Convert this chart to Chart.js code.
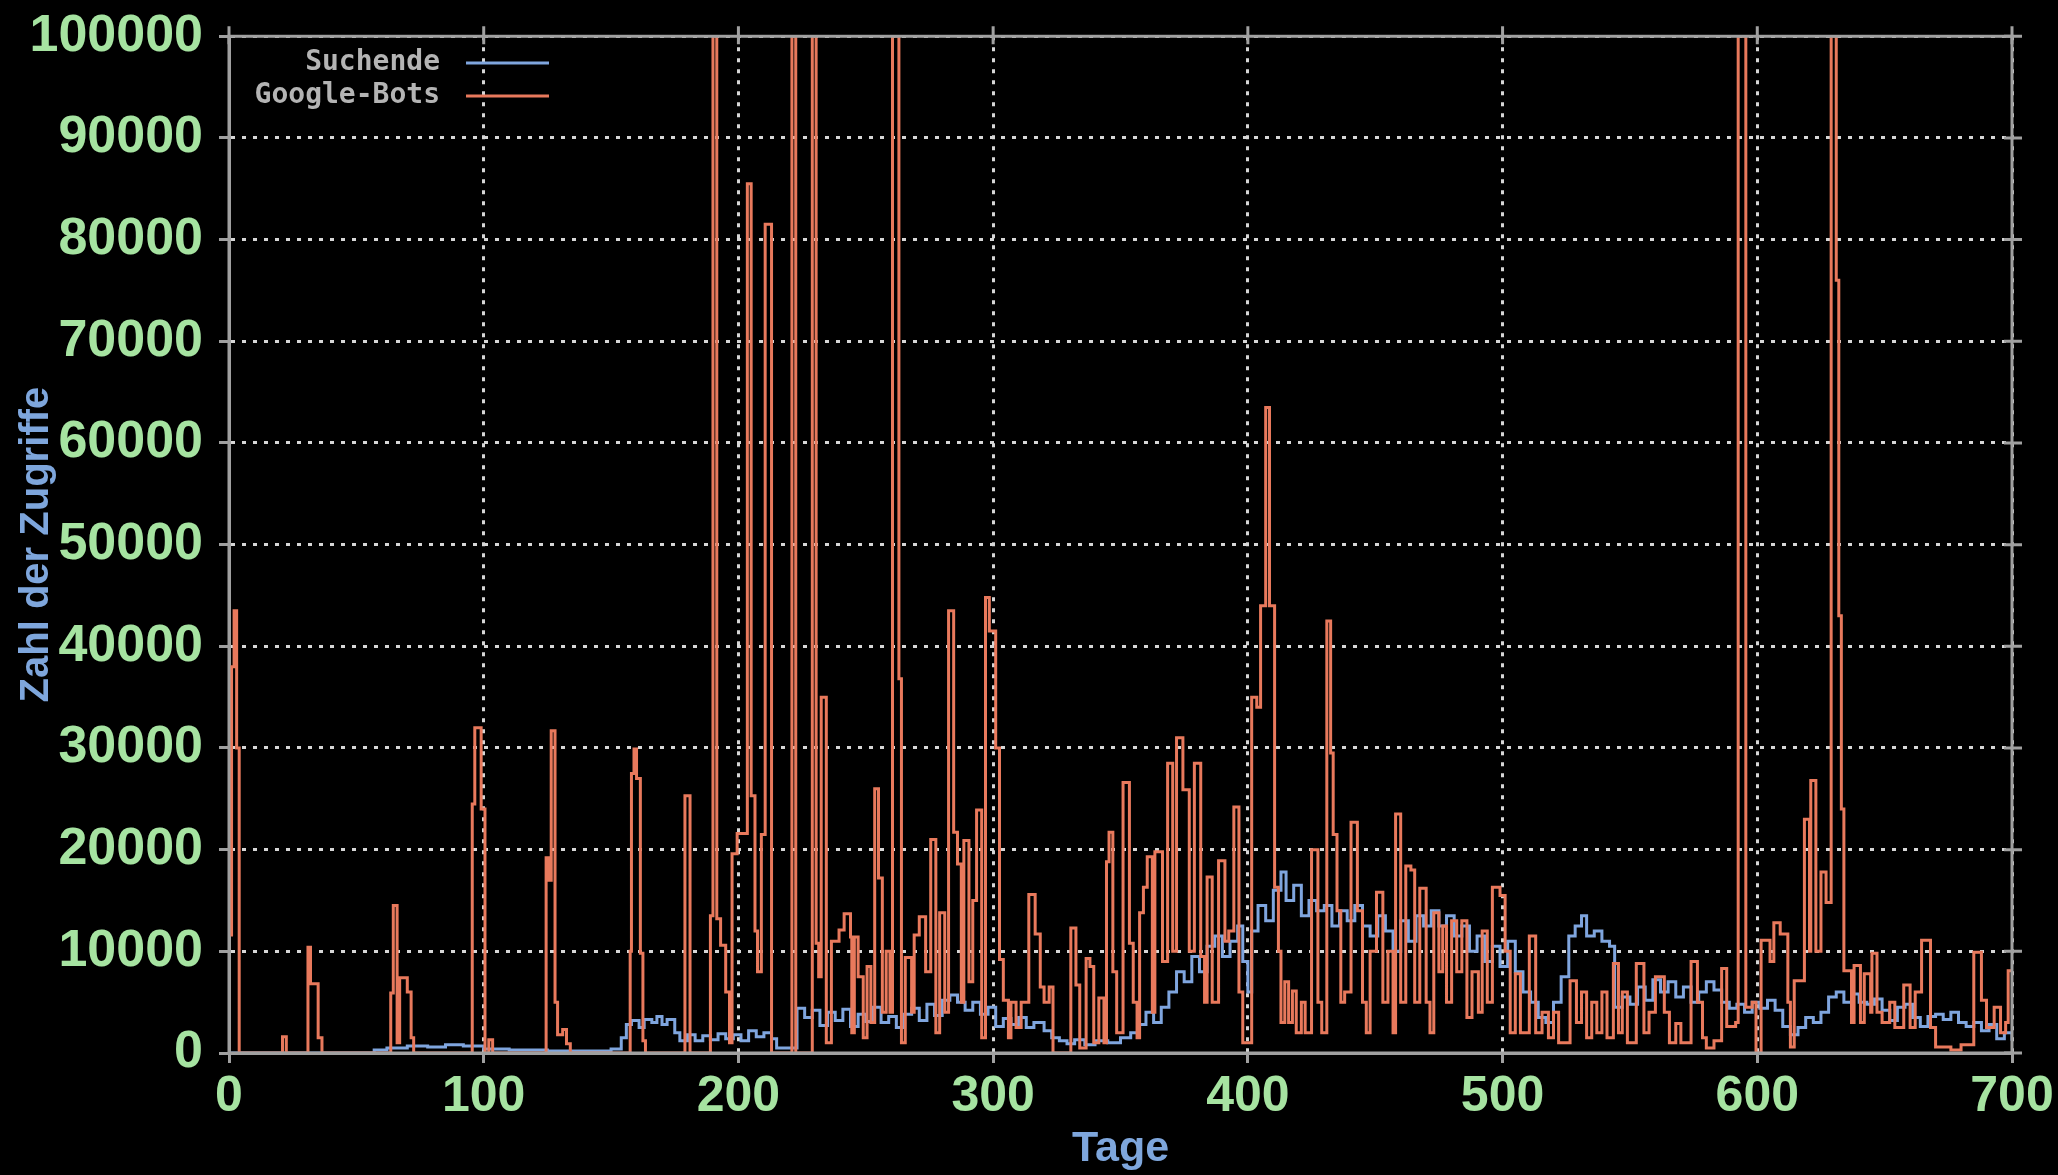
<!DOCTYPE html>
<html>
<head>
<meta charset="utf-8">
<script src="https://cdn.jsdelivr.net/npm/chart.js@4.4.1/dist/chart.umd.min.js"></script>
<style>
  html, body { margin: 0; padding: 0; background: #000; }
  #wrap { width: 2058px; height: 1175px; }
</style>
</head>
<body>
<div id="wrap"><canvas id="myChart" width="2058" height="1175"></canvas></div>
<script>
// values; each value holds until the next day in the list (gnuplot "steps")
const botsDays = [0,1,2,3,4,21,22.5,31,32,35,36.5,63.5,64.5,66,67,70,71.5,72.5,95.5,96.5,99,100.5,102,103.5,
  124.5,125.5,126.5,128,129,131,132.5,134,157.5,158,159,160,161.5,162.5,163.5,179,181,
  189,190,191.5,193,195,196.5,197.5,199.5,203.5,205,206.5,207.5,209,210.5,213,221,222.5,
  229,230.5,231.5,232.5,234.5,236.5,239.5,241.5,244,244.5,245.5,247,249,250.5,252,253.5,255,256.5,258,259.5,
  260.5,263,264,265.5,268,269,271,273.5,275.5,277.5,279,281,282.5,284.5,286,287.5,288.5,290.5,292,293.5,295.5,
  297,298.5,301,302.5,304,306,307,309,311,314,316.5,318.5,320,322,323.5,330.5,332.5,334,336.5,338,339.5,
  341.5,343.5,344.5,345.5,347,348.5,351,353.5,355,356.5,357.5,359,360.5,362.5,363.5,366.5,368.5,370.5,372,
  374.5,377,379,381.5,383,384,386,388.5,391,392.5,394.5,396.5,398,401.5,403.5,405,407,408.5,410.5,412,413,
  414.5,416,417.5,419,421,422.5,425,427.5,429,431,432.5,433.5,435,436.5,438,440.5,443,445,446.5,448,450.5,
  453,455,457,458,460,462,464,465.5,467.5,470,471.5,473,475,476.5,478,480,482,484,486,488,490.5,492,494,496,
  499,501,503,505,507,510.5,513,515.5,518,520,522,526.5,529,531,533,535,537,539,541,543.5,545.5,547,549,
  552.5,555.5,557.5,560,563.5,565.5,568,570,574,576.5,578.5,580,583,586,588,591.5,592.5,595.5,598,599.5,
  601.5,605,606.5,609,612,613,614.5,618.5,620.5,621,623,625,627,629,631,632,633,634,637,638,640.5,642,644.5,
  645,647,649,652,654,657.5,660,662,664.5,668,670,676,680,685,688,690,693,695.5,697.5,698.5,700];
const botsVals = [11600,38000,43500,30000,0,1600,0,10400,6800,1500,0,5900,14500,1000,7400,6000,1500,0,24500,32000,24000,0,1300,0,
  19200,17000,31700,5000,1800,2300,900,0,10000,27500,29900,27000,9800,1200,0,25300,0,
  13500,100000,13200,10600,6000,1000,19600,21600,85500,25300,12000,8000,21500,81500,0,100000,0,
  100000,10800,7500,35000,1000,11000,12100,13700,11400,2000,11400,7500,1500,8500,3000,26000,17200,4000,10000,4000,
  100000,36800,1000,9400,4000,11600,13400,8000,21000,2000,13800,4000,43500,21700,18600,5000,20900,7000,15000,23900,1500,
  44800,41500,30000,9200,5200,1500,5000,2500,5000,15600,11700,6500,5000,6500,0,12300,6700,500,9300,8500,1000,
  5400,1000,18800,21700,8000,2000,26600,10800,5000,1500,13800,16300,19300,4000,19800,9000,28500,10000,31000,
  25900,10000,28500,9500,5000,17300,5000,18900,11000,12000,24200,6000,1000,35000,34000,44000,63500,44000,16300,10000,3000,
  7000,3000,6100,2000,5000,2000,20000,5000,2000,42500,29500,21500,14000,5000,6000,22700,14000,5000,2000,10000,15800,
  5000,10000,2000,23500,5000,18400,18000,5000,16200,5000,2000,13800,8000,12500,5000,13000,8000,13000,3500,8000,4000,12000,5000,16300,
  15500,10000,2000,7800,2000,11500,2000,4000,1500,4000,1000,7100,3000,6000,1500,5000,2000,6000,1500,8800,2000,6000,1000,
  8800,2000,4000,7500,4000,1000,2900,1000,9000,5000,1500,500,1200,8300,2600,3000,100000,4500,5000,0,
  11100,9000,12800,11700,5000,600,7100,23000,10000,26800,10000,17800,14800,100000,76000,43000,24000,8100,3000,8600,3000,7800,4000,
  9800,4000,3000,5000,2500,6700,2500,6000,11100,2500,600,300,800,9900,5200,2500,4500,2000,3000,8100,8100];

const searchDays = [0,57,62,70,78,85,92,100,110,125,140,150,154,156,158,161,163,166,168,170,172,175,177,180,183,186,189,192,195,198,
  201,204,207,210,213,215,223,226,229,232,235,238,241,244,247,250,253,256,259,262,265,268,271,274,277,280,283,286,289,292,295,298,
  301,304,307,310,313,316,320,323,326,329,332,336,340,345,350,354,357,360,363,366,369,372,375,378,381,384,387,390,393,396,398,
  400,401.5,404,407,410,413,415,418,421,424,427,430,433,436,439,442,445,448,451,454,457,460,463,466,469,472,475,478,481,484,487,
  490,493,496,499,502,505,508,511,514,517,520,523,526,528.5,531,533,536,539,542,544,547,550,553,556,559,562,565,568,571,574,577,
  580,583,586,589,592,595,598,601,604,607,610,613,616,619,622,625,628,631,634,637,640,643,646,649,652,655,658,661,664,667,670,
  673,676,679,682,685,688,691,694,697,700];
const searchVals = [0,300,500,700,600,800,700,400,300,200,200,400,1500,2800,3200,2500,3300,3000,3600,2800,3300,2000,1200,1800,1200,1700,1300,1900,1400,1800,
  1200,2200,1600,2000,1400,500,4400,3500,4200,2700,4000,3200,4300,2600,3800,3100,4500,3000,3600,2500,3800,4400,3200,4800,3700,5200,5700,5000,4200,5000,3800,4500,
  2600,3400,2800,3500,2500,3000,2200,1500,1200,900,1300,800,1200,1000,1500,2000,2800,4000,3000,4500,6000,8000,7000,9500,8000,10500,11500,9500,11000,12500,9000,
  6000,12000,14500,13000,16000,17800,15000,16500,13500,15000,14000,14500,12500,14000,13000,14500,12500,11500,13500,12000,10000,13000,11000,13500,12500,14000,12500,13500,11500,12500,10000,
  11500,9000,10500,8500,11000,8000,6000,5000,3500,3000,5000,7500,11500,12500,13500,11500,12000,11000,10500,4500,5500,4800,6500,5200,7200,6000,7000,5500,6500,5000,6000,
  7000,6200,5000,4400,4800,4000,5000,4400,5200,4200,2600,1800,2500,3500,3000,4000,5500,6000,5000,5800,5000,4800,5300,4200,3200,4500,4800,3500,2600,3600,3800,
  3300,4000,3000,2600,3000,2200,2800,1400,2000,1200];

const xTicks = [0, 100, 200, 300, 400, 500, 600, 700];
const legendLabels = ["Suchende", "Google-Bots"];

const blue = '#7fa5de';
const orange = '#e8795c';
const tickGreen = '#a6e3a1';
const titleBlue = '#7ea6dc';
const frameGray = '#a0a0a0';

function toPoints(days, vals) {
  return days.map((d, i) => ({x: d, y: vals[i]}));
}

// black page, gnuplot style frame and legend
const gnuplotLook = {
  id: 'gnuplotLook',
  beforeDraw(chart) {
    const c = chart.ctx;
    c.save();
    c.fillStyle = '#000';
    c.fillRect(0, 0, chart.width, chart.height);
    c.restore();
  },
  afterDatasetsDraw(chart) {
    const c = chart.ctx, a = chart.chartArea;
    const xs = chart.scales.x, ys = chart.scales.y;
    c.save();
    c.strokeStyle = frameGray;
    c.lineWidth = 3;
    c.strokeRect(a.left, a.top, a.right - a.left, a.bottom - a.top);
    c.beginPath();
    xTicks.forEach(t => {
      const px = xs.getPixelForValue(t);
      c.moveTo(px, a.top - 10); c.lineTo(px, a.top + 8);
    });
    for (let v = 0; v <= 100000; v += 10000) {
      const py = ys.getPixelForValue(v);
      c.moveTo(a.right - 8, py); c.lineTo(a.right + 10, py);
    }
    c.stroke();

    // legend: text right-aligned, then line sample
    c.font = 'bold 28px "DejaVu Sans Mono", monospace';
    c.textAlign = 'right';
    c.textBaseline = 'middle';
    const rows = [{label: legendLabels[0], color: blue, y: 63}, {label: legendLabels[1], color: orange, y: 96}];
    rows.forEach(r => {
      c.fillStyle = '#b4b4b4';
      c.fillText(r.label, 440, r.y);
      c.strokeStyle = r.color;
      c.lineWidth = 3;
      c.beginPath();
      c.moveTo(466, r.y); c.lineTo(549, r.y);
      c.stroke();
    });
    c.restore();
  }
};

const gridOpts = {
  color: '#d6d6d6',
  lineWidth: 3,
  tickLength: 10,
  tickColor: frameGray,
  tickWidth: 3,
  tickBorderDash: []
};

var ctx = document.getElementById('myChart').getContext('2d');
var myChart = new Chart(ctx, {
  type: 'line',
  data: {
    datasets: [{
      label: legendLabels[1],
      data: toPoints(botsDays, botsVals),
      borderColor: orange,
      borderWidth: 3,
      stepped: true,
      pointRadius: 0,
      order: 0
    }, {
      label: legendLabels[0],
      data: toPoints(searchDays, searchVals),
      borderColor: blue,
      borderWidth: 3,
      stepped: true,
      pointRadius: 0,
      order: 1
    }]
  },
  options: {
    responsive: false,
    animation: false,
    layout: { padding: { left: 0, right: 46, top: 20, bottom: 0 } },
    plugins: { legend: { display: false }, tooltip: { enabled: false } },
    scales: {
      x: {
        type: 'linear',
        min: 0,
        max: 700,
        afterFit(scale) { scale.height = 122; },
        afterBuildTicks(scale) { scale.ticks = xTicks.map(v => ({value: v})); },
        ticks: {
          color: tickGreen,
          font: { family: '"Liberation Sans", Arial, sans-serif', size: 50, weight: 'bold' },
          padding: 4,
          maxRotation: 0,
          callback: v => String(v)
        },
        grid: gridOpts,
        border: { display: true, color: frameGray, width: 3, dash: [4, 7] },
        title: {
          display: true,
          text: 'Tage',
          color: titleBlue,
          font: { family: '"Liberation Sans", Arial, sans-serif', size: 43, weight: 'bold' },
          padding: { top: 0, bottom: 0 }
        }
      },
      y: {
        min: 0,
        max: 100000,
        afterFit(scale) { scale.width = 229; },
        ticks: {
          stepSize: 10000,
          color: tickGreen,
          font: { family: '"Liberation Sans", Arial, sans-serif', size: 52, weight: 'bold', lineHeight: 0.78 },
          padding: 16,
          callback: v => String(v)
        },
        grid: gridOpts,
        border: { display: true, color: frameGray, width: 3, dash: [4, 7] },
        title: {
          display: true,
          text: 'Zahl der Zugriffe',
          color: titleBlue,
          font: { family: '"Liberation Sans", Arial, sans-serif', size: 40, weight: 'bold' },
          padding: { top: 13, bottom: 0 }
        }
      }
    }
  },
  plugins: [gnuplotLook]
});
</script>
</body>
</html>
